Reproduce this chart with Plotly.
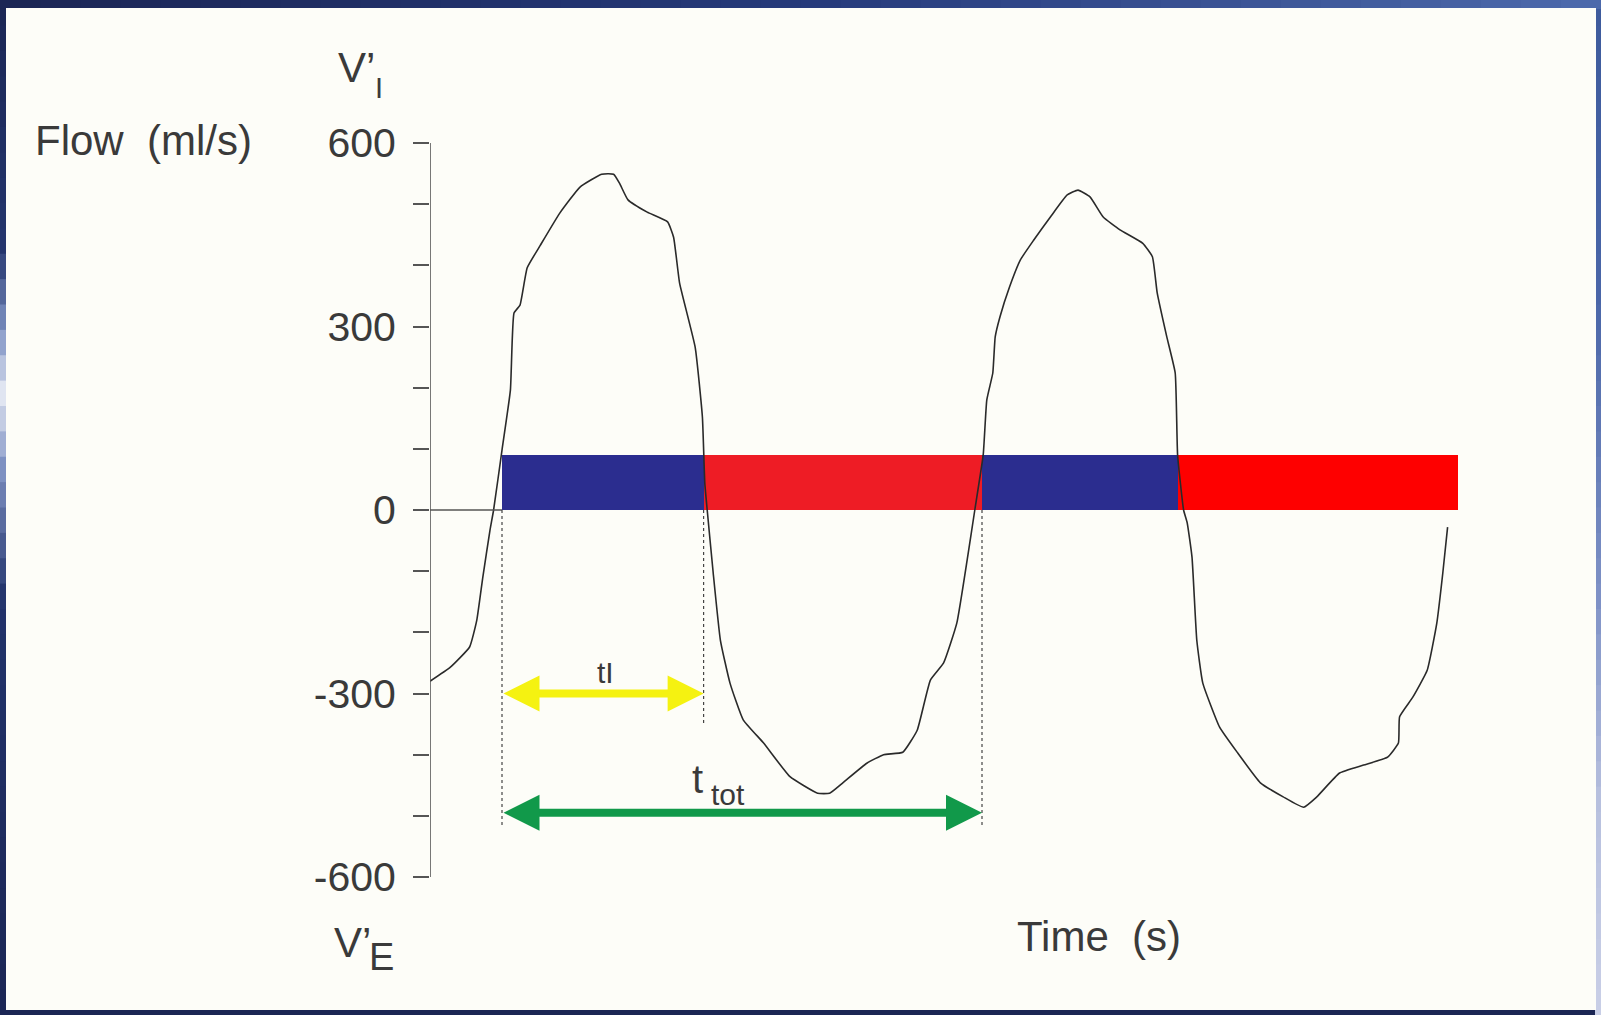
import plotly.graph_objects as go

# ---------------- data ----------------
time_s = [0.00, 0.17, 0.33, 0.39, 0.44, 0.50, 0.53, 0.60, 0.67, 0.70, 0.75, 0.81, 0.92,
          1.08, 1.25, 1.43, 1.53, 1.58, 1.65, 1.81, 1.98, 2.03, 2.08, 2.21, 2.27, 2.29,
          2.31, 2.36, 2.42, 2.50, 2.61, 2.78, 3.00, 3.23, 3.33, 3.44, 3.64, 3.78, 3.94,
          4.06, 4.17, 4.28, 4.39, 4.48, 4.54, 4.61, 4.64, 4.69, 4.71, 4.75, 4.83, 4.92,
          5.03, 5.17, 5.31, 5.40, 5.50, 5.61, 5.75, 5.94, 6.02, 6.06, 6.14, 6.21, 6.23,
          6.28, 6.31, 6.35, 6.39, 6.44, 6.58, 6.73, 6.92, 7.11, 7.28, 7.39, 7.58, 7.78,
          7.98, 8.07, 8.08, 8.19, 8.31, 8.39, 8.44, 8.48]
flow_mls = [-280, -257, -224, -180, -110, -33, 0, 98, 196, 322, 335, 396, 433,
            485, 528, 549, 549, 534, 507, 487, 471, 446, 371, 266, 152, 44,
            0, -103, -213, -283, -343, -381, -436, -463, -463, -446, -414, -400, -396,
            -360, -278, -250, -185, -77, 0, 90, 180, 224, 283, 316, 365, 409,
            441, 479, 515, 523, 512, 479, 458, 436, 414, 355, 283, 224, 90,
            0, -21, -77, -213, -283, -355, -397, -446, -469, -486, -469, -430, -417,
            -404, -381, -338, -306, -262, -185, -103, -28]

phase_starts = [0.60, 2.28, 4.60, 6.23]
phase_ends = [2.28, 4.60, 6.23, 8.57]
phase_names = ["Inspiration", "Expiration", "Inspiration", "Expiration"]
phase_colors = ["#2b2d8f", "#ee1c25", "#2b2d8f", "#fe0000"]
phase_bar_height = [90, 90, 90, 90]

ytick_vals = [-600, -500, -400, -300, -200, -100, 0, 100, 200, 300, 400, 500, 600]
ytick_text = ["-600", "", "", "-300", "", "", "0", "", "", "300", "", "", "600"]

t_insp_start = 0.60
t_insp_end = 2.28
t_cycle_end = 4.60
ti_arrow_flow = -300
ttot_arrow_flow = -495
ti_guide_bottom = -350
ttot_guide_bottom = -520

# ---------------- layout geometry ----------------
W, H = 1601, 1015
ML, MR, MT, MB = 430, 101, 100, 115
PW, PH = W - ML - MR, H - MT - MB
X_RANGE = [0, 8.9167]
Y_RANGE = [-637.6, 670.3]


def px2x(px):
    return (px - ML) / PW


def py2y(py):
    return (H - MB - py) / PH


def hex2rgb(h):
    h = h.lstrip("#")
    return [int(h[i:i + 2], 16) for i in (0, 2, 4)]


def interp_color(stops, v):
    for (p0, c0), (p1, c1) in zip(stops[:-1], stops[1:]):
        if p0 <= v <= p1:
            f = (v - p0) / (p1 - p0) if p1 > p0 else 0
            a, b = hex2rgb(c0), hex2rgb(c1)
            return "rgb(%d,%d,%d)" % tuple(round(a[i] + (b[i] - a[i]) * f) for i in range(3))
    return stops[-1][1]


TXT = "#3a3a3a"
FONT = "Liberation Sans, Arial, Helvetica, sans-serif"

fig = go.Figure()

fig.add_trace(go.Scatter(
    x=time_s, y=flow_mls, mode="lines",
    line=dict(color="#2a2a2a", width=1.6, shape="spline", smoothing=0.4),
    cliponaxis=False, hoverinfo="skip", name="Flow"))

fig.add_trace(go.Bar(
    x=[(s + e) / 2 for s, e in zip(phase_starts, phase_ends)],
    y=phase_bar_height,
    width=[e - s for s, e in zip(phase_starts, phase_ends)],
    marker=dict(color=phase_colors, line=dict(width=0)),
    text=phase_names, textposition="none", hoverinfo="text", name="Phase"))

shapes = []
# border / background
shapes.append(dict(type="rect", xref="paper", yref="paper", layer="below",
                   x0=px2x(0), x1=px2x(W), y0=py2y(0), y1=py2y(H),
                   fillcolor="#1b2654", line=dict(width=0)))
left_stops = [(0, "#1b2654"), (250, "#24366e"), (330, "#7f93c4"), (395, "#e3e7f2"),
              (470, "#7d90c2"), (600, "#22336b"), (1015, "#1b2654")]
right_stops = [(0, "#3d5a9c"), (300, "#4a66a8"), (600, "#7f92c6"), (800, "#b7c0de"),
               (1015, "#c9cfe6")]
top_stops = [(0, "#1b2654"), (800, "#25397a"), (1601, "#4d6aac")]
n = 40
for i in range(n):
    y0p, y1p = H * i / n, H * (i + 1) / n
    cm = (y0p + y1p) / 2
    shapes.append(dict(type="rect", xref="paper", yref="paper", layer="below",
                       x0=px2x(0), x1=px2x(7), y0=py2y(y0p), y1=py2y(y1p + 1),
                       fillcolor=interp_color(left_stops, cm), line=dict(width=0)))
    shapes.append(dict(type="rect", xref="paper", yref="paper", layer="below",
                       x0=px2x(1595), x1=px2x(W), y0=py2y(y0p), y1=py2y(y1p + 1),
                       fillcolor=interp_color(right_stops, cm), line=dict(width=0)))
    x0p, x1p = W * i / n, W * (i + 1) / n
    shapes.append(dict(type="rect", xref="paper", yref="paper", layer="below",
                       x0=px2x(x0p), x1=px2x(x1p + 1), y0=py2y(0), y1=py2y(9),
                       fillcolor=interp_color(top_stops, (x0p + x1p) / 2), line=dict(width=0)))
shapes.append(dict(type="rect", xref="paper", yref="paper", layer="below",
                   x0=px2x(6), x1=px2x(1596), y0=py2y(8), y1=py2y(1010),
                   fillcolor="#fdfdf8", line=dict(width=0)))

# y axis line (only between -600 and 600)
shapes.append(dict(type="line", xref="x", yref="y", x0=0, x1=0,
                   y0=ytick_vals[0], y1=ytick_vals[-1],
                   line=dict(color="#555555", width=1.6)))
# zero line up to the first inspiration
shapes.append(dict(type="line", xref="x", yref="y", x0=-0.08, x1=t_insp_start,
                   y0=0, y1=0, line=dict(color="#555555", width=1.4)))
# dotted guides
for t, yb in [(t_insp_start, ttot_guide_bottom), (t_insp_end, ti_guide_bottom),
              (t_cycle_end, ttot_guide_bottom)]:
    shapes.append(dict(type="line", xref="x", yref="y", x0=t, x1=t, y0=0, y1=yb,
                       line=dict(color="#444444", width=1.2, dash="dot")))

annotations = []
# arrows
for x0, x1, yv, col in [(t_insp_start, t_insp_end, ti_arrow_flow, "#f5f211"),
                        (t_insp_start, t_cycle_end, ttot_arrow_flow, "#11994a")]:
    annotations.append(dict(x=x1, y=yv, ax=x0, ay=yv, xref="x", yref="y",
                            axref="x", ayref="y", text="", showarrow=True,
                            arrowhead=2, startarrowhead=2, arrowside="end+start",
                            arrowwidth=8, arrowsize=0.9, startarrowsize=0.9,
                            standoff=0, startstandoff=0, arrowcolor=col))


def label(px, py, text, size, anchor="left"):
    annotations.append(dict(x=px2x(px), y=py2y(py), xref="paper", yref="paper",
                            xanchor=anchor, yanchor="middle", text=text,
                            showarrow=False,
                            font=dict(size=size, color=TXT, family=FONT)))


label(605, 672, "tI", 30, "center")
label(697.5, 779, "t", 40, "center")
label(728, 794, "tot", 30, "center")

label(33, 140, "Flow  (ml/s)", 42)
label(336, 68, "V’", 42)
label(373, 87.5, "I", 29)
label(332, 942, "V’", 42)
label(367, 957, "E", 38)
label(1015, 937, "Time  (s)", 42)

fig.update_layout(
    width=W, height=H,
    margin=dict(l=ML, r=MR, t=MT, b=MB, pad=0),
    paper_bgcolor="#1b2654", plot_bgcolor="rgba(0,0,0,0)",
    showlegend=False, barmode="overlay", bargap=0,
    shapes=shapes, annotations=annotations,
    font=dict(family=FONT, color=TXT),
    xaxis=dict(range=X_RANGE, visible=False, fixedrange=True),
    yaxis=dict(range=Y_RANGE, tickmode="array", tickvals=ytick_vals, ticktext=ytick_text,
               ticks="outside", ticklen=16, tickwidth=1.6, tickcolor="#555555",
               showgrid=False, zeroline=False, showline=False,
               tickfont=dict(size=41, color=TXT, family=FONT), ticklabelstandoff=9,
               fixedrange=True),
)

fig.write_html("out.html", config={"displayModeBar": False},
               post_script="document.body.style.margin='0';document.body.style.overflow='hidden';")
